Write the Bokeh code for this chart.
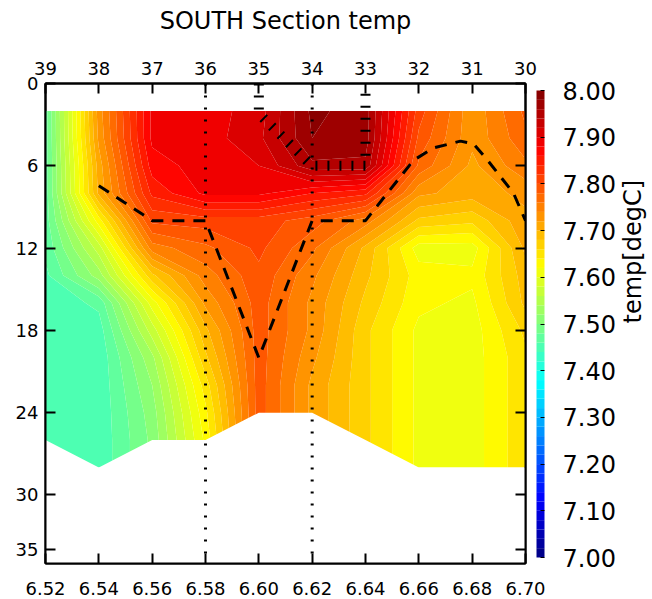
import numpy as np
from bokeh.plotting import figure
from bokeh.models import (LinearAxis, FixedTicker, PrintfTickFormatter, Range1d,
                          CustomLabelingPolicy)
from bokeh.embed import file_html
from bokeh.resources import INLINE

# ---------------- data ----------------
station_id = [39, 38, 37, 36, 35, 34, 33, 32, 31, 30]
station_lon = [6.52, 6.54, 6.56, 6.58, 6.60, 6.62, 6.64, 6.66, 6.68, 6.70]
depth = [2, 4, 6, 8, 10, 12, 14, 16, 18, 20, 22, 24, 26, 28]

# temperature [degC] profiles, one list per station (values at the depths above)
t_st39 = [7.47, 7.47, 7.47, 7.47, 7.47, 7.465, 7.455, 7.445, 7.445, 7.445, 7.445, 7.445, 7.445, 7.445]
t_st38 = [7.73, 7.725, 7.71, 7.705, 7.63, 7.57, 7.53, 7.465, 7.45, 7.445, 7.445, 7.445, 7.445, 7.445]
t_st37 = [7.885, 7.885, 7.87, 7.845, 7.805, 7.75, 7.675, 7.61, 7.57, 7.535, 7.52, 7.51, 7.505, 7.505]
t_st36 = [7.89, 7.89, 7.89, 7.885, 7.81, 7.775, 7.75, 7.725, 7.695, 7.675, 7.65, 7.635, 7.625, 7.625]
t_st35 = [7.91, 7.915, 7.90, 7.885, 7.81, 7.805, 7.795, 7.79, 7.79, 7.79, 7.79, 7.79, 7.79, 7.79]
t_st34 = [7.985, 7.98, 7.955, 7.86, 7.79, 7.765, 7.745, 7.735, 7.735, 7.725, 7.715, 7.715, 7.715, 7.715]
t_st33 = [7.97, 7.97, 7.955, 7.845, 7.75, 7.695, 7.685, 7.675, 7.665, 7.665, 7.665, 7.665, 7.665, 7.665]
t_st32 = [7.81, 7.795, 7.775, 7.725, 7.675, 7.61, 7.63, 7.625, 7.615, 7.615, 7.615, 7.615, 7.615, 7.615]
t_st31 = [7.725, 7.725, 7.715, 7.71, 7.665, 7.61, 7.625, 7.615, 7.61, 7.61, 7.61, 7.61, 7.61, 7.61]
t_st30 = [7.785, 7.775, 7.755, 7.725, 7.715, 7.705, 7.69, 7.685, 7.665, 7.655, 7.655, 7.655, 7.655, 7.655]

bottom_depth = [26, 28, 26, 26, 24, 24, 26, 28, 28, 28]

# dashed line
dash_lon = [6.54, 6.56, 6.58, 6.60, 6.62, 6.64, 6.658, 6.6655, 6.6756, 6.6805, 6.6858, 6.6955, 6.70]
dash_depth = [7.45, 10.0, 10.0, 20.0, 10.0, 10.0, 5.6, 4.7, 4.2, 4.4, 5.6, 8.0, 10.0]

# hatched contour line
hatch_lon = [6.60, 6.60, 6.62, 6.64, 6.64]
hatch_depth = [0.0, 2.2, 6.0, 6.0, 0.0]

# dotted station marker lines
dotted_lon = [6.58, 6.62]

depth_ticks = [0, 6, 12, 18, 24, 30, 34]
depth_tick_labels = ["0", "6", "12", "18", "24", "30", "35"]
cbar_ticks = [7.0, 7.1, 7.2, 7.3, 7.4, 7.5, 7.6, 7.7, 7.8, 7.9, 8.0]

# ---------------- styling helpers ----------------
FONT = "DejaVu Sans"
levels = np.linspace(7.0, 8.0, 51)


def jet(t):
    r = min(max(1.5 - abs(4 * t - 3), 0), 1)
    g = min(max(1.5 - abs(4 * t - 2), 0), 1)
    b = min(max(1.5 - abs(4 * t - 1), 0), 1)
    return "#%02x%02x%02x" % (int(round(r * 255)), int(round(g * 255)), int(round(b * 255)))


palette = [jet((i + 0.5) / (len(levels) - 1)) for i in range(len(levels) - 1)]

z = np.array([t_st39, t_st38, t_st37, t_st36, t_st35,
              t_st34, t_st33, t_st32, t_st31, t_st30]).T

p = figure(frame_width=480, frame_height=480,
           x_range=Range1d(station_lon[0], station_lon[-1]),
           y_range=Range1d(35, 0),
           output_backend="svg", toolbar_location=None,
           min_border_left=45, min_border_top=83,
           min_border_right=127, min_border_bottom=30)
p.background_fill_color = "white"
p.xgrid.visible = False
p.ygrid.visible = False
p.outline_line_color = "black"
p.outline_line_width = 2

cr = p.contour(x=station_lon, y=depth, z=z, levels=levels, fill_color=palette)

# sea floor mask
floor_x = station_lon + [station_lon[-1], station_lon[0]]
floor_y = bottom_depth + [35, 35]
p.patch(floor_x, floor_y, fill_color="white", line_color=None)

# dotted station lines
for lon in dotted_lon:
    p.line([lon, lon], [0, 35], line_color="black", line_width=3, line_dash="2 10")

# hatched contour
p.line(hatch_lon, hatch_depth, line_color="black", line_width=10, line_dash="2 10")

# dashed contour
p.line(dash_lon, dash_depth, line_color="black", line_width=3, line_dash="12 9")


def style_axis(ax, size="18px"):
    ax.axis_line_width = 2
    ax.axis_line_color = "black"
    ax.major_tick_in = 10
    ax.major_tick_out = 0
    ax.major_tick_line_width = 2
    ax.major_tick_line_color = "black"
    ax.minor_tick_line_color = None
    ax.major_label_text_font = FONT
    ax.major_label_text_font_size = size
    ax.major_label_text_color = "black"


# bottom axis
bx = p.xaxis[0]
bx.ticker = FixedTicker(ticks=station_lon)
bx.formatter = PrintfTickFormatter(format="%.2f")
style_axis(bx)
bx.major_label_standoff = 18

# left axis
ly = p.yaxis[0]
ly.ticker = FixedTicker(ticks=depth_ticks)
ly.major_label_overrides = {t: l for t, l in zip(depth_ticks, depth_tick_labels)}
style_axis(ly)
ly.major_label_standoff = 7

# top axis (station numbers) carrying the title
tx = LinearAxis(ticker=FixedTicker(ticks=station_lon),
                major_label_overrides={lon: str(s) for lon, s in zip(station_lon, station_id)})
style_axis(tx)
tx.major_label_standoff = 9
tx.axis_label = "SOUTH Section temp"
tx.axis_label_text_font = FONT
tx.axis_label_text_font_size = "24px"
tx.axis_label_text_font_style = "normal"
tx.axis_label_text_color = "black"
tx.axis_label_standoff = 24
p.add_layout(tx, "above")

# right axis (ticks only, labels suppressed)
ry = LinearAxis(ticker=FixedTicker(ticks=depth_ticks),
                major_label_policy=CustomLabelingPolicy(code="return []"))
style_axis(ry, size="1px")
ry.major_label_standoff = 0
p.add_layout(ry, "right")

# colour bar
cb = cr.construct_color_bar(width=8, height=467, location="top_left",
                            margin=0, padding=7,
                            major_label_text_font=FONT,
                            major_label_text_font_size="24px",
                            major_label_text_color="black",
                            label_standoff=18,
                            major_tick_in=4, major_tick_out=0,
                            major_tick_line_color="black",
                            bar_line_color="black", bar_line_width=1,
                            border_line_color=None,
                            background_fill_color=None)
cb.ticker = FixedTicker(ticks=cbar_ticks)
cb.formatter = PrintfTickFormatter(format="%.2f")
p.add_layout(cb, "right")

# colour bar label (axis extent limited so that the rotated text sits beside the bar's middle)
lab = LinearAxis(ticker=FixedTicker(ticks=[]), axis_label="temp[degC]",
                 bounds=(8.8, 35),
                 axis_line_color=None, major_tick_in=0, major_tick_out=0,
                 minor_tick_line_color=None,
                 axis_label_orientation=np.pi / 2,
                 axis_label_standoff=7,
                 axis_label_text_font=FONT,
                 axis_label_text_font_size="24px",
                 axis_label_text_font_style="normal",
                 axis_label_text_color="black")
p.add_layout(lab, "right")

open("out.html", "w").write(file_html(p, INLINE))
